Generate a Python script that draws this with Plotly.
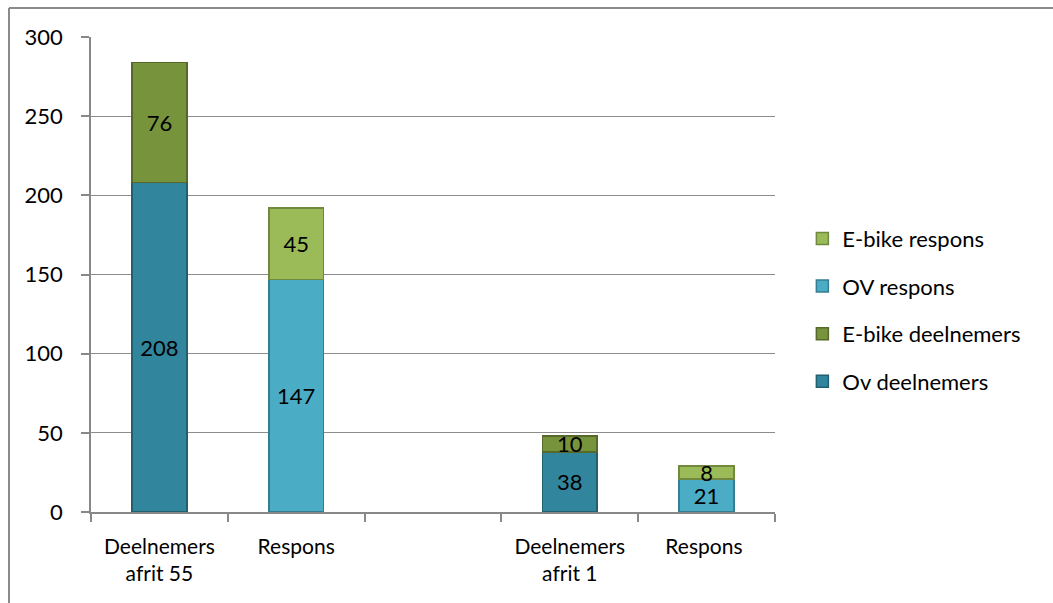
import plotly.graph_objects as go

categories = ["Deelnemers<br>afrit 55", "Respons", " ", "Deelnemers<br>afrit 1", "Respons "]
ov_deelnemers = [208, None, None, 38, None]
ebike_deelnemers = [76, None, None, 10, None]
ov_respons = [None, 147, None, None, 21]
ebike_respons = [None, 45, None, None, 8]

series = [
    ("Ov deelnemers", ov_deelnemers, "#31859C", "#23606F", 4),
    ("E-bike deelnemers", ebike_deelnemers, "#77933C", "#56692B", 3),
    ("OV respons", ov_respons, "#4BACC6", "#357D91", 2),
    ("E-bike respons", ebike_respons, "#9BBB59", "#71893F", 1),
]

FONT = "Lato"
fig = go.Figure()
for name, vals, col, lcol, rank in series:
    fig.add_trace(go.Bar(
        x=categories, y=vals, name=name,
        marker=dict(color=col, line=dict(color=lcol, width=1.5)),
        text=[str(v) if v is not None else "" for v in vals],
        textposition="inside", insidetextanchor="middle", textangle=0,
        constraintext="none", cliponaxis=False,
        textfont=dict(family=FONT, size=22, color="black"),
        legendgroup=name, legendrank=rank,
    ))

fig.update_layout(
    width=1053, height=603,
    margin=dict(l=91, r=278, t=37, b=91),
    paper_bgcolor="white", plot_bgcolor="white",
    barmode="stack", bargap=0.6,
    uniformtext=dict(minsize=22, mode="show"),
    font=dict(family=FONT, color="black"),
    showlegend=True,
    legend=dict(
        x=1.04, y=0.425, xanchor="left", yanchor="middle",
        traceorder="grouped", tracegroupgap=16,
        font=dict(family=FONT, size=22, color="black"),
        itemwidth=30,
    ),
    xaxis=dict(
        type="category", tickson="boundaries",
        showgrid=False, showline=True, linecolor="#888", linewidth=1.5,
        ticks="outside", ticklen=8, tickcolor="#888", tickwidth=1.5,
        ticklabelstandoff=15,
        tickfont=dict(family=FONT, size=21, color="black"),
    ),
    yaxis=dict(
        range=[0, 300], dtick=50,
        showgrid=True, gridcolor="#8c8c8c", gridwidth=1,
        showline=True, linecolor="#888", linewidth=1.5,
        ticks="outside", ticklen=8, tickcolor="#888", tickwidth=1.5,
        ticklabelstandoff=14,
        tickfont=dict(family=FONT, size=22, color="black"),
        zeroline=False,
    ),
    shapes=[
        dict(type="line", xref="paper", yref="paper",
             x0=-0.1199, x1=-0.1199, y0=1.061, y1=-0.25,
             line=dict(color="#8a8a8a", width=2)),
        dict(type="line", xref="paper", yref="paper",
             x0=-0.1199, x1=1.42, y0=1.061, y1=1.061,
             line=dict(color="#8a8a8a", width=2)),
    ],
)

fig.write_html("out.html")
